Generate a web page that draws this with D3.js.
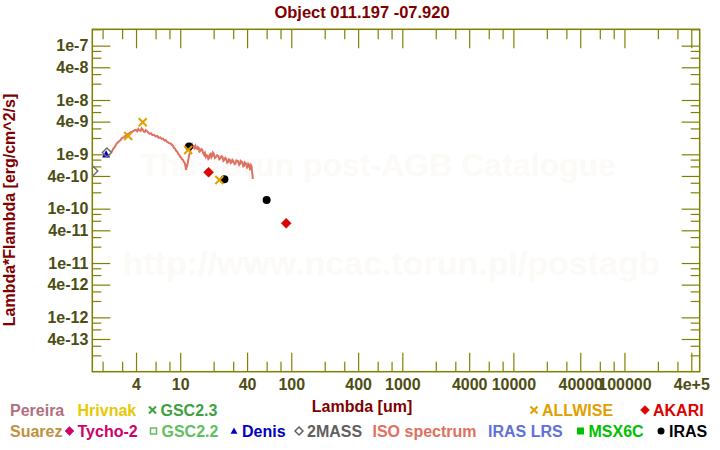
<!DOCTYPE html>
<html>
<head>
<meta charset="utf-8">
<script src="https://cdn.jsdelivr.net/npm/d3@7"></script>
<style>
body { margin: 0; background: #fff; }
svg { display: block; font-family: "Liberation Sans", Arial, sans-serif; font-weight: bold; }
</style>
</head>
<body>
<div id="chart"></div>
<script>
// ---- data ----
var isoWave = [2.4, 2.45, 2.5, 2.55, 2.6, 2.65, 2.7, 2.75, 2.8, 2.9, 3.0, 3.1, 3.2, 3.3, 3.4, 3.5, 3.6, 3.7, 3.8, 3.9,
  4.0, 4.1, 4.2, 4.3, 4.4, 4.5, 4.6, 4.7, 4.8, 4.9, 5.0, 5.15, 5.3, 5.45, 5.6, 5.8, 6.0, 6.2, 6.4, 6.6,
  6.8, 7.0, 7.2, 7.4, 7.6, 7.8, 8.0, 8.2, 8.4, 8.6, 8.8, 9.0, 9.2, 9.4, 9.6, 9.8, 10.0, 10.2, 10.4, 10.6,
  10.8, 11.0, 11.1, 11.2, 11.3, 11.4, 11.5, 11.7, 12.0, 12.4, 12.8, 13.0, 13.2, 13.4, 13.7, 13.9, 14.2, 14.4, 14.7, 14.9,
  15.2, 15.5, 15.8, 16.1, 16.4, 16.7, 17.0, 17.3, 17.6, 17.9, 18.2, 18.5, 18.8, 19.1, 19.4, 19.7, 20, 20.5, 21, 21.5,
  22, 22.5, 23, 23.5, 24, 24.5, 25, 25.5, 26, 26.5, 27, 27.5, 28, 28.5, 29, 29.5, 30, 31, 31.5, 32,
  33, 34, 34.5, 35, 36, 37, 37.5, 38, 39, 40, 40.5, 41, 42, 42.5, 43, 43.5, 44, 44.3, 44.5, 44.8, 45];
var isoFlux = [1.11e-9, 1.17e-9, 1.28e-9, 1.33e-9, 1.43e-9, 1.52e-9, 1.62e-9, 1.66e-9, 1.73e-9, 1.84e-9, 2.01e-9, 2.05e-9, 2.18e-9, 2.25e-9, 2.38e-9, 2.45e-9, 2.59e-9, 2.60e-9, 2.70e-9, 2.78e-9,
  2.81e-9, 2.66e-9, 2.94e-9, 2.75e-9, 2.70e-9, 3.02e-9, 2.87e-9, 2.62e-9, 2.59e-9, 2.80e-9, 2.70e-9, 2.52e-9, 2.38e-9, 2.45e-9, 2.28e-9, 2.30e-9, 2.14e-9, 2.18e-9, 2.01e-9, 2.05e-9,
  1.92e-9, 1.95e-9, 1.80e-9, 1.82e-9, 1.69e-9, 1.66e-9, 1.59e-9, 1.58e-9, 1.49e-9, 1.44e-9, 1.31e-9, 1.27e-9, 1.16e-9, 1.12e-9, 1.02e-9, 9.8e-10, 8.96e-10, 8.7e-10, 8.06e-10, 7.9e-10,
  7.24e-10, 6.9e-10, 6.38e-10, 5.7e-10, 5.16e-10, 6.6e-10, 6.12e-10, 6.94e-10, 9.34e-10, 1.21e-9, 1.49e-9, 1.35e-9, 1.40e-9, 1.30e-9, 1.43e-9, 1.28e-9, 1.26e-9, 1.36e-9, 1.31e-9, 1.12e-9,
  1.16e-9, 1.25e-9, 1.21e-9, 1.05e-9, 9.75e-10, 1.06e-9, 8.96e-10, 9.6e-10, 9.34e-10, 8.2e-10, 8.58e-10, 9.9e-10, 1.02e-9, 8.8e-10, 9.34e-10, 1.08e-9, 1.04e-9, 8.6e-10, 8.96e-10, 9.6e-10,
  9.34e-10, 8.1e-10, 8.40e-10, 9.2e-10, 8.96e-10, 7.6e-10, 7.89e-10, 8.6e-10, 8.23e-10, 7.0e-10, 7.24e-10, 8.1e-10, 7.89e-10, 6.9e-10, 7.09e-10, 7.9e-10, 7.56e-10, 6.6e-10, 6.80e-10, 7.7e-10,
  7.56e-10, 6.4e-10, 6.66e-10, 7.6e-10, 7.24e-10, 6.0e-10, 6.12e-10, 7.1e-10, 6.80e-10, 5.7e-10, 5.86e-10, 6.7e-10, 6.38e-10, 5.3e-10, 5.38e-10, 6.2e-10, 5.86e-10, 4.9e-10, 4.54e-10, 4.1e-10, 3.52e-10];

var twomassWave = [1.65, 2.19];
var twomassFlux = [4.94e-10, 1.08e-9];
var denisWave = [2.15];
var denisFlux = [1.0e-9];
var allwiseWave = [3.4, 4.6, 11.8, 22.5];
var allwiseFlux = [2.18e-9, 3.9e-9, 1.2e-9, 3.38e-10];
var irasWave = [12, 25, 60];
var irasFlux = [1.39e-9, 3.47e-10, 1.44e-10];
var akariWave = [18, 90];
var akariFlux = [4.68e-10, 5.37e-11];

var xMajor = [4, 10, 40, 100, 400, 1000, 4000, 10000, 40000, 100000, 400000];
var xLabels = ["4", "10", "40", "100", "400", "1000", "4000", "10000", "40000", "100000", "4e+5"];
var yMajor = [1e-7, 4e-8, 1e-8, 4e-9, 1e-9, 4e-10, 1e-10, 4e-11, 1e-11, 4e-12, 1e-12, 4e-13];
var yLabels = ["1e-7", "4e-8", "1e-8", "4e-9", "1e-9", "4e-10", "1e-10", "4e-11", "1e-11", "4e-12", "1e-12", "4e-13"];
var minorSteps = [2, 3, 6, 8];

var W = 720, H = 450;
var plotL = 92.3, plotR = 699.7, plotT = 29.3, plotB = 371.7;
var axisColor = "#808000", labelColor = "#4d4d12", titleColor = "#800000";

var svg = d3.select("#chart").append("svg").attr("width", W).attr("height", H);

var x = d3.scaleLog().domain([1.616, 4.76e5]).range([plotL, plotR]);
var y = d3.scaleLog().domain([1e-13, 2e-7]).range([plotB, plotT]);

function minorTicks(scale) {
  var d = scale.domain(), out = [];
  for (var e = Math.floor(Math.log10(d[0])); e <= Math.ceil(Math.log10(d[1])); e++) {
    minorSteps.forEach(function(m) {
      var v = m * Math.pow(10, e);
      if (v >= d[0] * 0.999 && v <= d[1] * 1.001) out.push(v);
    });
  }
  return out;
}

// watermark
svg.append("text").attr("x", 378).attr("y", 176).attr("text-anchor", "middle")
  .style("font-size", "32px").attr("fill", "#fbfaf6")
  .text("The Torun post-AGB Catalogue");
svg.append("text").attr("x", 391).attr("y", 275).attr("text-anchor", "middle")
  .style("font-size", "34px").attr("fill", "#fbfaf6")
  .text("http://www.ncac.torun.pl/postagb");

// axes
function styleAxis(g) {
  g.select(".domain").remove();
  g.selectAll("line").attr("stroke", axisColor).attr("stroke-width", 1.2);
  g.selectAll("text").attr("fill", labelColor).style("font-size", "16px").attr("font-family", null);
}
var fmtX = function(d, i) { return xLabels[i]; };
var fmtY = function(d, i) { return yLabels[i]; };

svg.append("g").attr("transform", "translate(0," + plotB + ")")
  .call(d3.axisBottom(x).tickValues(xMajor).tickFormat(fmtX).tickSizeInner(-19).tickSizeOuter(0).tickPadding(6.5))
  .call(styleAxis);
svg.append("g").attr("transform", "translate(0," + plotB + ")")
  .call(d3.axisBottom(x).tickValues(minorTicks(x)).tickFormat("").tickSizeInner(-10).tickSizeOuter(0))
  .call(styleAxis);
svg.append("g").attr("transform", "translate(0," + plotT + ")")
  .call(d3.axisTop(x).tickValues(xMajor).tickFormat("").tickSizeInner(-19).tickSizeOuter(0))
  .call(styleAxis);
svg.append("g").attr("transform", "translate(0," + plotT + ")")
  .call(d3.axisTop(x).tickValues(minorTicks(x)).tickFormat("").tickSizeInner(-10).tickSizeOuter(0))
  .call(styleAxis);

svg.append("g").attr("transform", "translate(" + plotL + ",0)")
  .call(d3.axisLeft(y).tickValues(yMajor).tickFormat(fmtY).tickSizeInner(-18).tickSizeOuter(0).tickPadding(4))
  .call(styleAxis);
svg.append("g").attr("transform", "translate(" + plotL + ",0)")
  .call(d3.axisLeft(y).tickValues(minorTicks(y)).tickFormat("").tickSizeInner(-9).tickSizeOuter(0))
  .call(styleAxis);
svg.append("g").attr("transform", "translate(" + plotR + ",0)")
  .call(d3.axisRight(y).tickValues(yMajor).tickFormat("").tickSizeInner(-18).tickSizeOuter(0))
  .call(styleAxis);
svg.append("g").attr("transform", "translate(" + plotR + ",0)")
  .call(d3.axisRight(y).tickValues(minorTicks(y)).tickFormat("").tickSizeInner(-9).tickSizeOuter(0))
  .call(styleAxis);

svg.append("rect").attr("x", plotL).attr("y", plotT).attr("width", plotR - plotL).attr("height", plotB - plotT)
  .attr("fill", "none").attr("stroke", axisColor).attr("stroke-width", 1.5);

// titles
svg.append("text").attr("x", 362).attr("y", 18).attr("text-anchor", "middle")
  .style("font-size", "16.5px").attr("fill", titleColor).text("Object 011.197 -07.920");
svg.append("text").attr("transform", "translate(15,210) rotate(-90)").attr("text-anchor", "middle")
  .style("font-size", "16px").attr("fill", titleColor).text("Lambda*Flambda [erg/cm^2/s]");
svg.append("text").attr("x", 362).attr("y", 412).attr("text-anchor", "middle")
  .style("font-size", "16px").attr("fill", titleColor).text("Lambda [um]");

// markers
function marker(g, type, cx, cy, s, color) {
  if (type == "x") {
    g.append("path").attr("d", "M" + (cx - s) + "," + (cy - s) + "L" + (cx + s) + "," + (cy + s) +
      "M" + (cx - s) + "," + (cy + s) + "L" + (cx + s) + "," + (cy - s))
      .attr("stroke", color).attr("stroke-width", 2).attr("fill", "none");
  } else if (type == "diamond" || type == "odiamond") {
    g.append("path").attr("d", "M" + cx + "," + (cy - s) + "L" + (cx + s) + "," + cy + "L" + cx + "," + (cy + s) + "L" + (cx - s) + "," + cy + "Z")
      .attr("fill", type == "diamond" ? color : "none")
      .attr("stroke", color).attr("stroke-width", type == "diamond" ? 0.5 : 1.5);
  } else if (type == "circle") {
    g.append("circle").attr("cx", cx).attr("cy", cy).attr("r", s).attr("fill", color);
  } else if (type == "tri") {
    g.append("path").attr("d", "M" + cx + "," + (cy - s) + "L" + (cx + s) + "," + (cy + s * 0.8) + "L" + (cx - s) + "," + (cy + s * 0.8) + "Z")
      .attr("fill", color);
  } else if (type == "square") {
    g.append("rect").attr("x", cx - s).attr("y", cy - s).attr("width", 2 * s).attr("height", 2 * s).attr("fill", color);
  } else if (type == "osquare") {
    g.append("rect").attr("x", cx - s).attr("y", cy - s).attr("width", 2 * s).attr("height", 2 * s)
      .attr("fill", "none").attr("stroke", color).attr("stroke-width", 1.5);
  }
}

svg.append("defs").append("clipPath").attr("id", "clip").append("rect")
  .attr("x", plotL).attr("y", plotT).attr("width", plotR - plotL).attr("height", plotB - plotT);
var plot = svg.append("g").attr("clip-path", "url(#clip)");

var line = d3.line().x(function(d) { return x(d[0]); }).y(function(d) { return y(d[1]); });
plot.append("path").datum(d3.zip(isoWave, isoFlux)).attr("d", line)
  .attr("fill", "none").attr("stroke", "#e07060").attr("stroke-width", 2);

function drawSeries(wave, flux, type, s, color) {
  wave.forEach(function(w, i) { marker(plot, type, x(w), y(flux[i]), s, color); });
}
drawSeries(akariWave, akariFlux, "diamond", 5, "#dd0000");
drawSeries(irasWave, irasFlux, "circle", 4, "#000000");
drawSeries(allwiseWave, allwiseFlux, "x", 4, "#e0a000");
drawSeries(denisWave, denisFlux, "tri", 4, "#0000c0");
drawSeries(twomassWave, twomassFlux, "odiamond", 4.5, "#707070");

// legend
var legend = [
  { t: "Pereira", c: "#b07080", x: 10, y: 416 },
  { t: "Hrivnak", c: "#e8c800", x: 77.5, y: 416 },
  { t: "GSC2.3", c: "#40a040", x: 160.5, y: 416, m: "x" },
  { t: "ALLWISE", c: "#e0a000", x: 542, y: 416, m: "x" },
  { t: "AKARI", c: "#dd0000", x: 653, y: 416, m: "diamond" },
  { t: "Suarez", c: "#c09040", x: 10, y: 437 },
  { t: "Tycho-2", c: "#d0006a", x: 77.5, y: 437, m: "diamond" },
  { t: "GSC2.2", c: "#60c060", x: 161.5, y: 437, m: "osquare" },
  { t: "Denis", c: "#0000c0", x: 242, y: 437, m: "tri" },
  { t: "2MASS", c: "#606060", x: 307, y: 437, m: "odiamond" },
  { t: "ISO spectrum", c: "#e07060", x: 372.5, y: 437 },
  { t: "IRAS LRS", c: "#6070d8", x: 488, y: 437 },
  { t: "MSX6C", c: "#00c000", x: 588.5, y: 437, m: "square" },
  { t: "IRAS", c: "#000000", x: 669, y: 437, m: "circle" }
];
var lg = svg.append("g");
legend.forEach(function(d) {
  lg.append("text").attr("x", d.x).attr("y", d.y).style("font-size", "16px").attr("fill", d.c).text(d.t);
  if (d.m) {
    var ms = { x: 3.5, diamond: 4.5, osquare: 3, tri: 3.5, odiamond: 4, square: 3.5, circle: 3.5 }[d.m];
    marker(lg, d.m, d.x - 8, d.y - 6, ms, d.c);
  }
});
</script>
</body>
</html>
